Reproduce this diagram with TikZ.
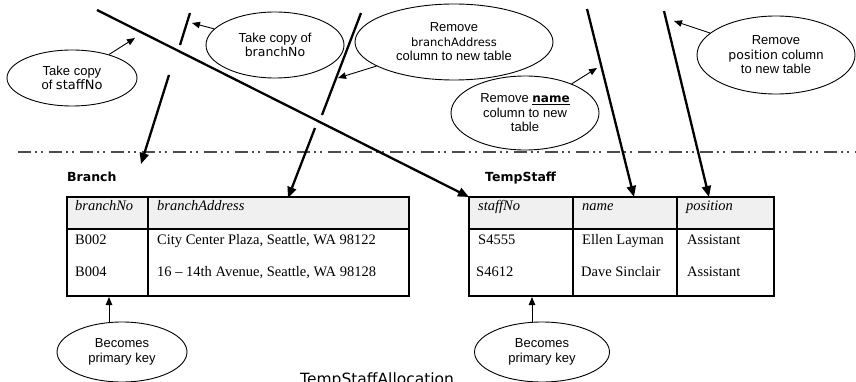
\documentclass[tikz,border=0pt]{standalone}
\usepackage{fontspec}
\setmainfont{Liberation Sans}
\newfontfamily\tnr{Liberation Serif}
\newfontfamily\comic{DejaVu Sans}
\usetikzlibrary{shapes.geometric,arrows.meta}
\begin{document}
\begin{tikzpicture}[x=1pt,y=-1pt,
  callout/.style={ellipse,draw,line width=0.9pt,inner sep=0pt,align=center,
    font=\fontsize{13}{14.5}\selectfont},
  bigline/.style={line width=2.3pt},
  bigarrow/.style={line width=2.3pt,-{Triangle[length=11pt,width=9pt]}},
  smallarrow/.style={line width=0.9pt,-{Triangle[length=8pt,width=6.5pt]}},
  hcell/.style={draw,line width=1.1pt,fill=gray!12,anchor=north west,minimum height=32pt,inner sep=0pt,outer sep=0pt},
  bcell/.style={draw,line width=1.1pt,anchor=north west,minimum height=67pt,inner sep=0pt,outer sep=0pt},
  tt/.style={anchor=base west,inner sep=0pt,font=\tnr\fontsize{14.5}{17}\selectfont},
  ti/.style={anchor=base west,inner sep=0pt,font=\tnr\itshape\fontsize{14.5}{17}\selectfont},
  title/.style={anchor=base west,inner sep=0pt,font=\comic\bfseries\fontsize{12.5}{15}\selectfont},
  dashdotline/.style={line width=2pt,draw=black!70,dash pattern=on 13pt off 4pt on 2pt off 4pt on 2pt off 6pt}]
\useasboundingbox (0,0) rectangle (856,382);
\clip (0,0) rectangle (856,382);

% separator
\coordinate (dl) at (18,152);
\coordinate (dr) at (856,152);
\draw[dashdotline] (dl) -- (dr);

% tables: Branch
\node[hcell,minimum width=81pt] (b1) at (67,197) {};
\node[hcell,minimum width=261pt] (b2) at (148,197) {};
\node[bcell,minimum width=81pt] (b3) at (67,229) {};
\node[bcell,minimum width=261pt] (b4) at (148,229) {};
% TempStaff
\node[hcell,minimum width=104pt] (t1) at (469,197) {};
\node[hcell,minimum width=104pt] (t2) at (573,197) {};
\node[hcell,minimum width=97pt] (t3) at (677,197) {};
\node[bcell,minimum width=104pt] (t4) at (469,229) {};
\node[bcell,minimum width=104pt] (t5) at (573,229) {};
\node[bcell,minimum width=97pt] (t6) at (677,229) {};

\node[title] (tbranch) at (67,182) {Branch};
\node[title] (ttemp) at (485,182) {TempStaff};

\node[ti] (h1) at (75,210) {branchNo};
\node[ti] (h2) at (157,210) {branchAddress};
\node[tt] (r11) at (75,244) {B002};
\node[tt] (r21) at (75,276) {B004};
\node[tt] (r12) at (157,244) {City Center Plaza, Seattle, WA 98122};
\node[tt] (r22) at (157,276) {16 \textendash{} 14th Avenue, Seattle, WA 98128};

\node[ti] (h3) at (478,210) {staffNo};
\node[ti] (h4) at (582,210) {name};
\node[ti] (h5) at (686,210) {position};
\node[tt] (s11) at (478,244) {S4555};
\node[tt] (s21) at (476,276) {S4612};
\node[tt] (s12) at (582,244) {Ellen Layman};
\node[tt] (s22) at (581,276) {Dave Sinclair};
\node[tt] (s13) at (687,244) {Assistant};
\node[tt] (s23) at (687,276) {Assistant};

% callouts
\node[callout,minimum width=130pt,minimum height=56pt] (e1) at (72,78)
  {Take copy\\of {\comic\fontsize{13}{14.5}\selectfont staffNo}};
\node[callout,minimum width=138pt,minimum height=66pt] (e2) at (275,45)
  {Take copy of\\{\comic\fontsize{12.5}{14.5}\selectfont branchNo}};
\node[callout,minimum width=198pt,minimum height=76pt] (e3) at (454,42)
  {Remove\\{\comic\fontsize{11.5}{14.5}\selectfont branchAddress}\\column to new table};
\node[callout,minimum width=148pt,minimum height=74pt] (e4) at (525,113)
  {Remove \underline{\comic\bfseries\fontsize{12}{14.5}\selectfont name}\\column to new\\table};
\node[callout,minimum width=158pt,minimum height=78pt] (e5) at (776,55)
  {Remove\\{\comic\fontsize{12.5}{14.5}\selectfont position} column\\to new table};
\node[callout,minimum width=130pt,minimum height=60pt] (e6) at (122,352)
  {Becomes\\primary key};
\node[callout,minimum width=135pt,minimum height=60pt] (e7) at (542,352)
  {Becomes\\primary key};

\node[anchor=base west,inner sep=0pt,font=\comic\fontsize{15.5}{18}\selectfont] (alloc) at (300,384) {TempStaffAllocation};

% big lines
\coordinate (L1s) at (97,10);
\draw[bigarrow] (L1s) -- (t1.north west);

\coordinate (L2a) at (190,13);
\coordinate (L2b) at (180,45);
\coordinate (L2c) at (169,75);
\coordinate (L2d) at (141,164);
\draw[bigline] (L2a) -- (L2b);
\draw[bigarrow] (L2c) -- (L2d);

\coordinate (L3a) at (361,13);
\coordinate (L3b) at (322,115);
\coordinate (L3c) at (315,128);
\coordinate (L3d) at (288,198);
\draw[bigline] (L3a) -- (L3b);
\draw[bigarrow] (L3c) -- (L3d);

\coordinate (L4a) at (587,9);
\coordinate (L4d) at (634,197);
\draw[bigarrow] (L4a) -- (L4d);

\coordinate (L5a) at (664,11);
\coordinate (L5d) at (709,197);
\draw[bigarrow] (L5a) -- (L5d);

% callout arrows
\coordinate (c1) at (135,38);
\coordinate (c2) at (192,23);
\coordinate (c3) at (338,78);
\coordinate (c4) at (597,68);
\coordinate (c5) at (674,21);
\coordinate (c6) at (109,297);
\coordinate (c7) at (532,297);
\draw[smallarrow] (e1) -- (c1);
\draw[smallarrow] (e2) -- (c2);
\draw[smallarrow] (e3) -- (c3);
\draw[smallarrow] (e4) -- (c4);
\draw[smallarrow] (e5) -- (c5);
\draw[smallarrow] (e6.north -| c6) -- (c6);
\draw[smallarrow] (e7.north -| c7) -- (c7);
\end{tikzpicture}
\end{document}
